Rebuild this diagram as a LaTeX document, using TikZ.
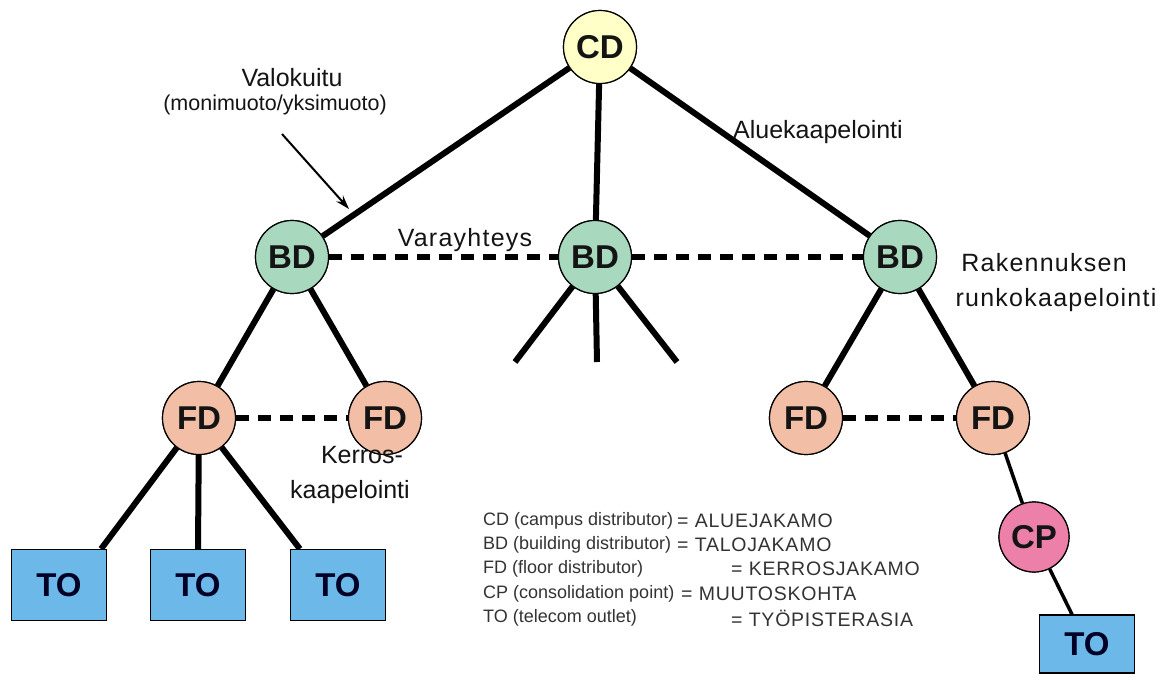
\documentclass[tikz,border=0pt]{standalone}
\usepackage{fontspec}
\setmainfont{Liberation Sans}
\newfontfamily\legright[LetterSpace=4]{Liberation Sans}
\newfontfamily\lblwide[LetterSpace=5]{Liberation Sans}
\usetikzlibrary{arrows.meta}
\definecolor{cdfill}{RGB}{255,255,200}
\definecolor{bdfill}{RGB}{168,216,190}
\definecolor{fdfill}{RGB}{242,190,166}
\definecolor{cpfill}{RGB}{236,128,168}
\definecolor{tofill}{RGB}{108,184,232}
\definecolor{txtdark}{RGB}{20,20,20}
\tikzset{
  dist/.style={circle,draw=black,line width=1.2pt,minimum size=73pt,inner sep=0pt,
    font=\fontsize{33}{35}\selectfont\bfseries,text=txtdark},
  cdnode/.style={dist,fill=cdfill},
  bdnode/.style={dist,fill=bdfill},
  fdnode/.style={dist,fill=fdfill},
  cpnode/.style={dist,fill=cpfill,minimum size=70pt},
  tonode/.style={rectangle,draw=black,line width=1.2pt,fill=tofill,minimum width=95pt,
    minimum height=71pt,inner sep=0pt,font=\fontsize{33}{35}\selectfont\bfseries,text=black!85!blue},
  cable/.style={line width=6pt},
  thincable/.style={line width=3.5pt},
  backup/.style={line width=6pt,dash pattern=on 13pt off 9pt},
  lbl/.style={font=\fontsize{25}{30}\selectfont,inner sep=0pt,text=txtdark},
  legl/.style={font=\fontsize{18}{24}\selectfont,inner sep=0pt,anchor=west,text=black!80},
  legr/.style={font=\legright\fontsize{19.5}{24}\selectfont,inner sep=0pt,anchor=west,text=black!80},
}
\begin{document}
\begin{tikzpicture}[x=1pt,y=-1pt]
\useasboundingbox[fill=white] (0,0) rectangle (1176,682);
% nodes
\node[cdnode] (cd) at (600,47) {CD};
\node[bdnode] (bd1) at (292,257) {BD};
\node[bdnode] (bd2) at (595,257) {BD};
\node[bdnode] (bd3) at (900,257) {BD};
\node[fdnode] (fd1) at (199,418) {FD};
\node[fdnode] (fd2) at (385,418) {FD};
\node[fdnode] (fd3) at (806,418) {FD};
\node[fdnode] (fd4) at (993,418) {FD};
\node[cpnode] (cp) at (1034,537) {CP};
\node[tonode] (to1) at (59,585) {TO};
\node[tonode] (to2) at (198,585) {TO};
\node[tonode] (to3) at (338,585) {TO};
\node[tonode,minimum height=58pt] (to4) at (1087,644) {TO};
\coordinate (s1) at (515,362);
\coordinate (s2) at (597,362);
\coordinate (s3) at (677,362);
\coordinate (arA) at (282,134);
\coordinate (arB) at (349,209);
% connectors
\draw[cable] (cd) -- (bd1);
\draw[cable] (cd) -- (bd2);
\draw[cable] (cd) -- (bd3);
\draw[cable] (bd1) -- (fd1);
\draw[cable] (bd1) -- (fd2);
\draw[cable] (bd2) -- (s1);
\draw[cable] (bd2) -- (s2);
\draw[cable] (bd2) -- (s3);
\draw[cable] (bd3) -- (fd3);
\draw[cable] (bd3) -- (fd4);
\draw[cable] (fd1) -- ([xshift=-6pt]to1.north east);
\draw[cable] (fd1) -- (to2.north);
\draw[cable] (fd1) -- ([xshift=10pt]to3.north west);
\draw[thincable] (fd4) -- (cp);
\draw[thincable] (cp) -- ([xshift=-15pt]to4.north);
\draw[backup] (bd1) -- (bd2);
\draw[backup] (bd2) -- (bd3);
\draw[backup] (fd1) -- (fd2);
\draw[backup] (fd3) -- (fd4);
\draw[line width=2pt,-{Stealth[length=14pt,width=9pt]}] (arA) -- (arB);
% redraw nodes on top of connectors
\node[cdnode] at (cd) {CD};
\node[bdnode] at (bd1) {BD};
\node[bdnode] at (bd2) {BD};
\node[bdnode] at (bd3) {BD};
\node[fdnode] at (fd1) {FD};
\node[fdnode] at (fd2) {FD};
\node[fdnode] at (fd3) {FD};
\node[fdnode] at (fd4) {FD};
\node[cpnode] at (cp) {CP};
\node[tonode] at (to1) {TO};
\node[tonode] at (to2) {TO};
\node[tonode] at (to3) {TO};
\node[tonode,minimum height=58pt] at (to4) {TO};
% labels
\node[lbl] (l1) at (292,78) {Valokuitu};
\node[lbl,font=\fontsize{21.5}{30}\selectfont] (l2) at (275,105) {(monimuoto/yksimuoto)};
\node[lbl] (l3) at (818,132) {Aluekaapelointi};
\node[lbl,font=\lblwide\fontsize{25}{30}\selectfont] (l4) at (465,240) {Varayhteys};
\node[lbl,font=\lblwide\fontsize{25}{30}\selectfont] (l5) at (1044,263) {Rakennuksen};
\node[lbl,font=\lblwide\fontsize{25}{30}\selectfont] (l6) at (1056,300) {runkokaapelointi};
\node[lbl] (l7) at (362,455) {Kerros-};
\node[lbl] (l8) at (350,492) {kaapelointi};
% legend
\node[legl] (g1) at (483,521) {CD (campus distributor)};
\node[legr] (g1b) at (677,521) {= ALUEJAKAMO};
\node[legl] (g2) at (483,545) {BD (building distributor)};
\node[legr] (g2b) at (677,545) {= TALOJAKAMO};
\node[legl] (g3) at (483,569) {FD (floor distributor)};
\node[legr] (g3b) at (731,569) {= KERROSJAKAMO};
\node[legl] (g4) at (483,594) {CP (consolidation point)};
\node[legr] (g4b) at (681,594) {= MUUTOSKOHTA};
\node[legl] (g5) at (483,618) {TO (telecom outlet)};
\node[legr] (g5b) at (731,618) {= TYÖPISTERASIA};
\end{tikzpicture}
\end{document}
